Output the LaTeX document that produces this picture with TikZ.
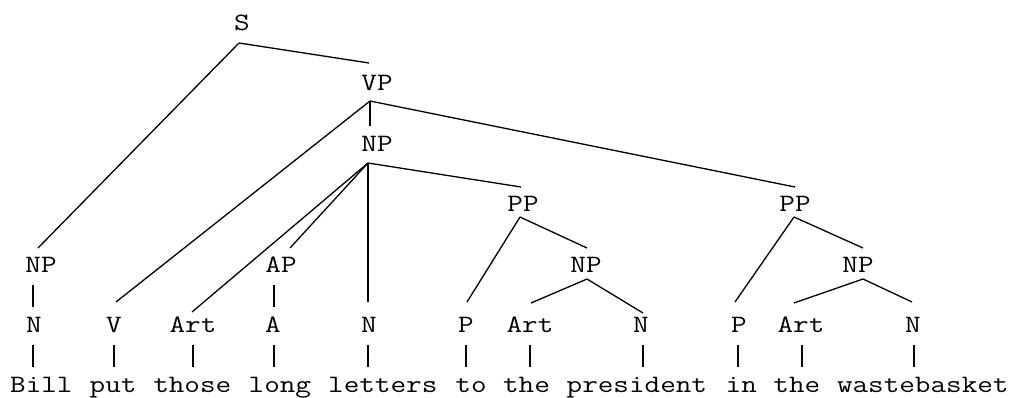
\documentclass[tikz,border=0pt]{standalone}
\usepackage{fontspec}
\newfontfamily\treefont[FakeStretch=1.2114]{Latin Modern Mono}
\usetikzlibrary{calc}
\tikzset{
  lbl/.style={anchor=base, inner sep=0pt, font=\treefont\fontsize{25}{30}\selectfont},
  wrd/.style={anchor=base west, inner sep=0pt, font=\treefont\fontsize{25}{30}\selectfont},
  branch/.style={line width=1.3pt, black},
}
\begin{document}
\begin{tikzpicture}[x=1pt,y=-1pt]
\useasboundingbox (0,0) rectangle (1019,397);
% labels
\node[lbl] (S)   at (242,30)    {S};
\node[lbl] (VP)  at (377,90.5)  {VP};
\node[lbl] (NPo) at (377,151)   {NP};
\node[lbl] (PPa) at (523,211.5) {PP};
\node[lbl] (PPb) at (795,211.5) {PP};
\node[lbl] (NPl) at (41,272)    {NP};
\node[lbl] (AP)  at (281,272)   {AP};
\node[lbl] (NPa) at (586,272)   {NP};
\node[lbl] (NPb) at (858,272)   {NP};
\node[lbl] (Na)   at (34,332)  {N};
\node[lbl] (V)    at (114,332) {V};
\node[lbl] (Arta) at (193,332) {Art};
\node[lbl] (A)    at (273,332) {A};
\node[lbl] (Nb)   at (369,332) {N};
\node[lbl] (Pa)   at (466,332) {P};
\node[lbl] (Artb) at (530,332) {Art};
\node[lbl] (Nc)   at (641,332) {N};
\node[lbl] (Pb)   at (739,332) {P};
\node[lbl] (Artc) at (801,332) {Art};
\node[lbl] (Nd)   at (913,332) {N};
% words
\node[wrd] (w1)  at (10+0*15.9,392.5)  {Bill};
\node[wrd] (w2)  at (10+5*15.9,392.5)  {put};
\node[wrd] (w3)  at (10+9*15.9,392.5)  {those};
\node[wrd] (w4)  at (10+15*15.9,392.5) {long};
\node[wrd] (w5)  at (10+20*15.9,392.5) {letters};
\node[wrd] (w6)  at (10+28*15.9,392.5) {to};
\node[wrd] (w7)  at (10+31*15.9,392.5) {the};
\node[wrd] (w8)  at (10+35*15.9,392.5) {president};
\node[wrd] (w9)  at (10+45*15.9,392.5) {in};
\node[wrd] (w10) at (10+48*15.9,392.5) {the};
\node[wrd] (w11) at (10+52*15.9,392.5) {wastebasket};
% branches
\draw[branch] ($(S.base)+(-3,13)$) -- ($(VP.base)+(-8,-27.5)$);
\draw[branch] ($(S.base)+(-3,13)$) -- ($(NPl.base)+(-3,-24)$);
\draw[branch] ($(VP.base)+(-7,10.5)$) -- ($(NPo.base)+(-7,-25)$);
\draw[branch] ($(VP.base)+(-7,10.5)$) -- ($(V.base)+(2,-30)$);
\draw[branch] ($(VP.base)+(-7,10.5)$) -- ($(PPb.base)+(0,-24.5)$);
\draw[branch] ($(NPo.base)+(-9,12)$) -- ($(Arta.base)+(-1,-20)$);
\draw[branch] ($(NPo.base)+(-9,12)$) -- ($(AP.base)+(9,-24)$);
\draw[branch] ($(NPo.base)+(-9,12)$) -- ($(Nb.base)+(-1,-30)$);
\draw[branch] ($(NPo.base)+(-9,12)$) -- ($(PPa.base)+(-2,-24.5)$);
\draw[branch] ($(NPl.base)+(-8,13)$) -- ($(Na.base)+(-1,-25)$);
\draw[branch] ($(AP.base)+(-7,13)$) -- ($(A.base)+(1,-25)$);
\draw[branch] ($(PPa.base)+(-3,5.5)$) -- ($(Pa.base)+(1,-30)$);
\draw[branch] ($(PPa.base)+(-3,5.5)$) -- ($(NPa.base)+(1,-24)$);
\draw[branch] ($(NPa.base)+(1,7)$) -- ($(Artb.base)+(1,-29)$);
\draw[branch] ($(NPa.base)+(1,7)$) -- ($(Nc.base)+(2,-19)$);
\draw[branch] ($(PPb.base)+(-1,5.5)$) -- ($(Pb.base)+(-4,-30)$);
\draw[branch] ($(PPb.base)+(-1,5.5)$) -- ($(NPb.base)+(5,-24)$);
\draw[branch] ($(NPb.base)+(5,7)$) -- ($(Artc.base)+(-7,-29)$);
\draw[branch] ($(NPb.base)+(5,7)$) -- ($(Nd.base)+(-1,-30)$);
% tag-to-word bars
\draw[branch] ($(Na.base)+(-1,13)$)   -- ($(w1.base -| Na.base)+(-1,-25.5)$);
\draw[branch] ($(V.base)+(0,13)$)     -- ($(w2.base -| V.base)+(0,-25.5)$);
\draw[branch] ($(Arta.base)+(0,13)$)  -- ($(w3.base -| Arta.base)+(0,-25.5)$);
\draw[branch] ($(A.base)+(1,13)$)     -- ($(w4.base -| A.base)+(1,-25.5)$);
\draw[branch] ($(Nb.base)+(-1,13)$)   -- ($(w5.base -| Nb.base)+(-1,-25.5)$);
\draw[branch] ($(Pa.base)+(0,13)$)    -- ($(w6.base -| Pa.base)+(0,-25.5)$);
\draw[branch] ($(Artb.base)+(0,13)$)  -- ($(w7.base -| Artb.base)+(0,-25.5)$);
\draw[branch] ($(Nc.base)+(2,13)$)    -- ($(w8.base -| Nc.base)+(2,-25.5)$);
\draw[branch] ($(Pb.base)+(-1,13)$)   -- ($(w9.base -| Pb.base)+(-1,-25.5)$);
\draw[branch] ($(Artc.base)+(1,13)$)  -- ($(w10.base -| Artc.base)+(1,-25.5)$);
\draw[branch] ($(Nd.base)+(1,13)$)    -- ($(w11.base -| Nd.base)+(1,-25.5)$);
\end{tikzpicture}
\end{document}
